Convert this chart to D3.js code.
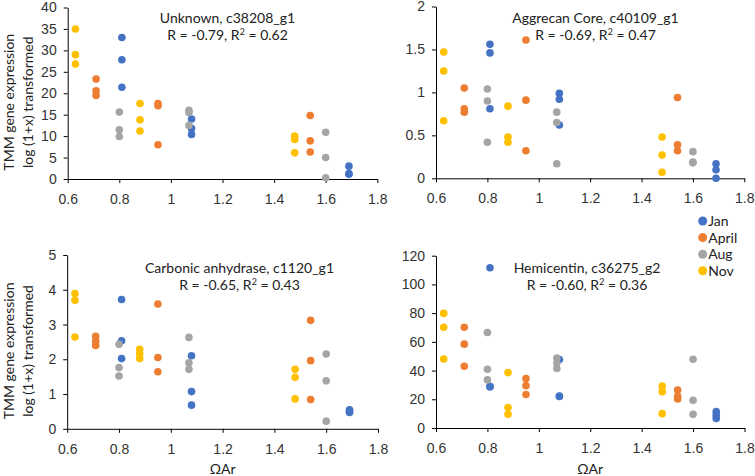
<!DOCTYPE html>
<html>
<head>
<meta charset="utf-8">
<script src="https://cdn.jsdelivr.net/npm/d3@7"></script>
<style>
  body { margin: 0; background: #fff; }
  svg { font-family: Lato, "Open Sans", sans-serif; }
  .tick text { font-size: 14px; fill: #333; }
  .note { font-size: 14px; fill: #222; }
  .ytitle { font-size: 14px; fill: #222; }
</style>
</head>
<body>
<svg id="chart" width="755" height="476"></svg>
<script>
// sampling months and ΩAr of each sampling group (3 replicates each)
var months = ["Jan", "April", "Aug", "Nov"];
var monthColors = ["#4472C4", "#ED7D31", "#A5A5A5", "#FFC000"];
var groupMonth = ["Nov", "April", "Aug", "Jan", "Nov", "April", "Aug", "Jan", "Nov", "April", "Aug", "Jan"];
var groupX = [0.63, 0.71, 0.80, 0.81, 0.88, 0.95, 1.07, 1.08, 1.48, 1.54, 1.60, 1.69];
var xTicks = [0.6, 0.8, 1, 1.2, 1.4, 1.6, 1.8];

// expression values per group
var unknownVals = [[35, 29, 26.8], [23.3, 20.6, 19.5], [15.6, 11.5, 9.9], [33, 27.8, 21.4],
    [17.6, 13.8, 11.2], [17.6, 17.1, 8], [16, 15.5, 12.5], [14, 11.8, 10.4],
    [10, 9.2, 6.1], [14.8, 8.9, 6.3], [10.9, 5, 0.3], [3, 1.3, 1.1]];
var aggrecanVals = [[1.47, 1.25, 0.67], [1.05, 0.81, 0.77], [1.04, 0.9, 0.42], [1.56, 1.46, 0.81],
    [0.84, 0.48, 0.42], [1.61, 0.91, 0.32], [0.77, 0.65, 0.17], [0.99, 0.92, 0.62],
    [0.48, 0.27, 0.07], [0.94, 0.39, 0.32], [0.31, 0.19, 0.18], [0.17, 0.1, 0]];
var carbonicVals = [[3.89, 3.7, 2.64], [2.66, 2.52, 2.4], [2.43, 1.76, 1.52], [3.72, 2.53, 2.02],
    [2.29, 2.16, 2.02], [3.59, 2.05, 1.64], [2.63, 1.9, 1.71], [2.1, 1.07, 0.68],
    [1.71, 1.48, 0.86], [3.12, 1.96, 0.84], [2.15, 1.38, 0.22], [0.55, 0.5, 0.47]];
var hemicentinVals = [[79.8, 70.2, 48.1], [70.2, 58.4, 43], [66.5, 40.9, 33.5], [111.6, 28.8, 28.8],
    [38.6, 14.2, 9.5], [34.4, 29.5, 23.3], [48.8, 45.3, 41.4], [47.7, 22.3, 21.9],
    [29.3, 25.3, 10], [26.5, 22.1, 20.2], [47.9, 19.3, 9.5], [11.4, 8.8, 6.7]];

var titles = ["Unknown, c38208_g1", "Aggrecan Core, c40109_g1", "Carbonic anhydrase, c1120_g1", "Hemicentin, c36275_g2"];
var rValues = ["-0.79", "-0.69", "-0.65", "-0.60"];
var r2Values = ["0.62", "0.47", "0.43", "0.36"];
var yMax = [40, 2, 5, 120];
var yTicks = [[0, 5, 10, 15, 20, 25, 30, 35, 40], [0, 0.5, 1, 1.5, 2], [0, 1, 2, 3, 4, 5], [0, 20, 40, 60, 80, 100, 120]];

var svg = d3.select("#chart");
var color = d3.scaleOrdinal().domain(months).range(monthColors);

// panel frames
var panels = [
    {vals: unknownVals, x0: 67.7, x1: 377.3, y0: 179, y1: 7.5, noteX: 227.5, noteY: 23, left: true, xTitle: null},
    {vals: aggrecanVals, x0: 436, x1: 744.3, y0: 178.3, y1: 6.5, noteX: 595.5, noteY: 23, left: false, xTitle: null},
    {vals: carbonicVals, x0: 67.2, x1: 378, y0: 428.8, y1: 255, noteX: 239.5, noteY: 272.5, left: true, xTitle: 474},
    {vals: hemicentinVals, x0: 436, x1: 744.5, y0: 428, y1: 255.7, noteX: 587, noteY: 273, left: false, xTitle: 474}
];

panels.forEach(function(p, i) {
    var x = d3.scaleLinear().domain([0.6, 1.8]).range([p.x0, p.x1]);
    var y = d3.scaleLinear().domain([0, yMax[i]]).range([p.y0, p.y1]);
    var g = svg.append("g");

    g.append("g")
        .attr("transform", "translate(0," + p.y0 + ")")
        .call(d3.axisBottom(x).tickValues(xTicks).tickSize(4).tickPadding(11).tickSizeOuter(0).tickFormat(d3.format("")))
        .call(a => a.select(".domain").attr("stroke", "#000"));

    g.append("g")
        .attr("transform", "translate(" + p.x0 + ",0)")
        .call(d3.axisLeft(y).tickValues(yTicks[i]).tickSize(4).tickPadding(7).tickSizeOuter(0).tickFormat(d3.format("")))
        .call(a => a.select(".domain").attr("stroke", "#000"));

    // flatten groups into points
    var pts = [];
    months.forEach(function(m) {
        groupMonth.forEach(function(gm, k) {
            if (gm !== m) return;
            p.vals[k].forEach(function(v) { pts.push({m: m, x: groupX[k], v: v}); });
        });
    });

    g.selectAll("circle")
        .data(pts)
        .enter()
        .append("circle")
        .attr("cx", d => x(d.x))
        .attr("cy", d => y(d.v))
        .attr("r", 3.8)
        .attr("fill", d => color(d.m));

    g.append("text").attr("class", "note")
        .attr("x", p.noteX).attr("y", p.noteY)
        .attr("text-anchor", "middle")
        .text(titles[i]);

    var t = g.append("text").attr("class", "note")
        .attr("x", p.noteX).attr("y", p.noteY + 17)
        .attr("text-anchor", "middle");
    t.append("tspan").text("R = " + rValues[i] + ", R");
    t.append("tspan").attr("dy", -5).style("font-size", "9px").text("2");
    t.append("tspan").attr("dy", 5).text(" = " + r2Values[i]);

    if (p.left) {
        var cy = (p.y0 + p.y1) / 2 + 9;
        g.append("text").attr("class", "ytitle")
            .attr("transform", "translate(14," + cy + ") rotate(-90)")
            .attr("text-anchor", "middle")
            .text("TMM gene expression");
        g.append("text").attr("class", "ytitle")
            .attr("transform", "translate(33," + cy + ") rotate(-90)")
            .attr("text-anchor", "middle")
            .text("log (1+x) transformed");
    }
    if (p.xTitle) {
        g.append("text").attr("class", "ytitle")
            .attr("x", (p.x0 + p.x1) / 2).attr("y", p.xTitle)
            .attr("text-anchor", "middle")
            .text("ΩAr");
    }
});

// legend
var leg = svg.append("g").attr("transform", "translate(702.7,221)");
months.forEach(function(m, i) {
    leg.append("circle").attr("cx", 0).attr("cy", i * 16.6).attr("r", 4.5).attr("fill", color(m));
    leg.append("text").attr("class", "ytitle").attr("x", 5.5).attr("y", i * 16.6 + 5).text(m);
});
</script>
</body>
</html>
